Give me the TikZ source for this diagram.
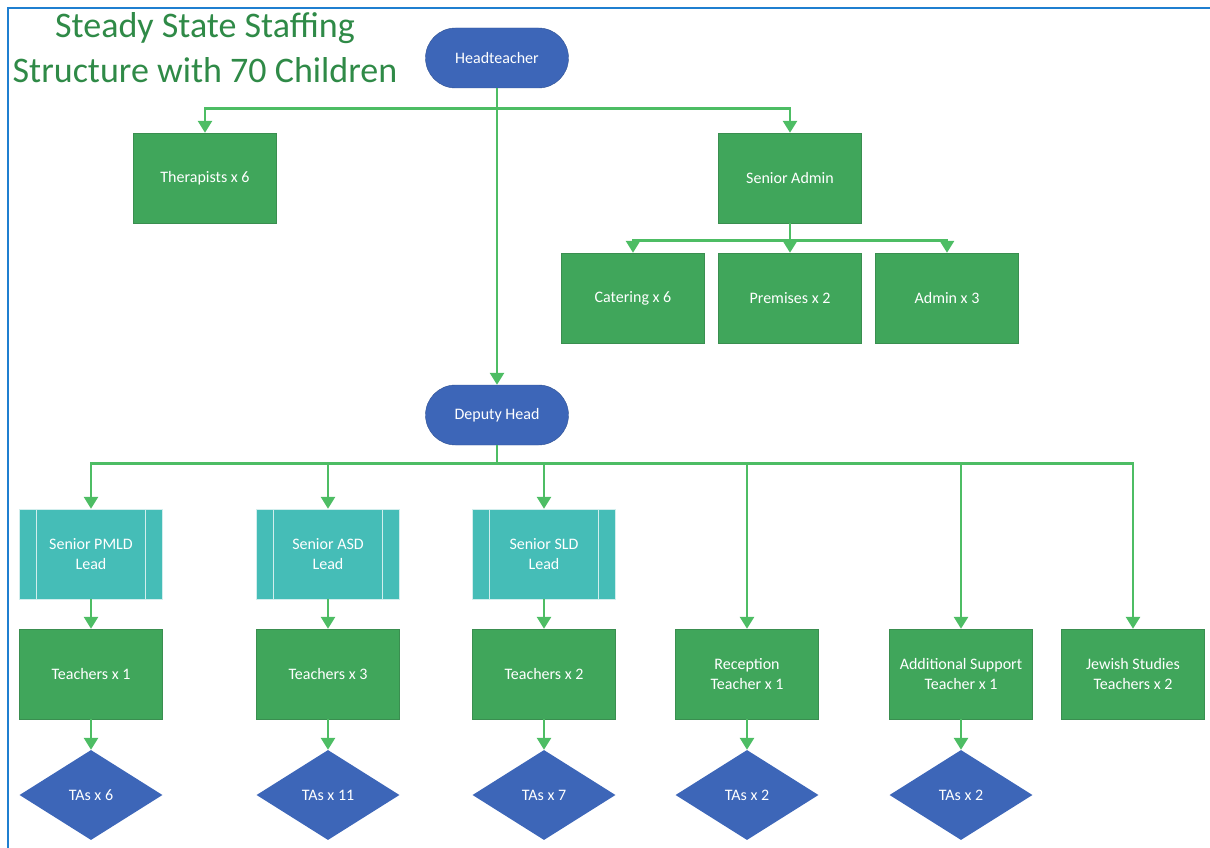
\documentclass[tikz,border=0pt]{standalone}
\usepackage{fontspec}
\setmainfont{Carlito}
\usetikzlibrary{arrows.meta,shapes.geometric}
\definecolor{boxgreen}{HTML}{40A65B}
\definecolor{boxedge}{HTML}{3A8E50}
\definecolor{linegreen}{HTML}{4DBD64}
\definecolor{headblue}{HTML}{3D66B8}
\definecolor{leadcyan}{HTML}{45BDB7}
\definecolor{titlegreen}{HTML}{2F8A47}
\definecolor{frameblue}{HTML}{1F7FD0}

\begin{document}
\begin{tikzpicture}[x=1pt,y=-1pt,
  every node/.style={font=\fontsize{16}{20}\selectfont, text=white, align=center},
  role/.style={draw=boxedge, fill=boxgreen, minimum width=143pt, minimum height=90pt, inner sep=0pt},
  lead/.style={draw=white!75!leadcyan, fill=leadcyan, minimum width=143pt, minimum height=90pt, inner sep=0pt,
    path picture={
      \draw[white!75!leadcyan] ([xshift=17pt]path picture bounding box.north west) -- ([xshift=17pt]path picture bounding box.south west);
      \draw[white!75!leadcyan] ([xshift=-17pt]path picture bounding box.north east) -- ([xshift=-17pt]path picture bounding box.south east);}},
  boss/.style={draw=headblue!80!black, fill=headblue, rounded corners=30pt, minimum width=143pt, minimum height=60pt, inner sep=0pt},
  tas/.style={diamond, fill=headblue, aspect=1.59, minimum width=143pt, minimum height=90pt, inner sep=0pt},
  link/.style={draw=linegreen, line width=2.7pt, -{Triangle[width=14pt,length=12pt]}}]
\useasboundingbox (0,0) rectangle (1210,848);
\draw[frameblue, line width=2.5pt] (8,848) -- (8,8) -- (1210,8);

% title
\node[text=titlegreen, font=\fontsize{36}{45}\selectfont] (title) at (205,48) {Steady State Staffing\\Structure with 70 Children};

% top of the tree
\node[boss] (head) at (497,58) {Headteacher};
\node[role] (therap) at (205,178) {Therapists x 6};
\node[role] (sadmin) at (790,178) {Senior Admin};
\node[role] (cater) at (633,298) {Catering x 6};
\node[role] (prem) at (790,298) {Premises x 2};
\node[role] (admin) at (947,298) {Admin x 3};
\node[boss] (deputy) at (497,415) {Deputy Head};

% teaching side
\node[lead] (pmld) at (91,554) {Senior PMLD\\Lead};
\node[lead] (asd) at (328,554) {Senior ASD\\Lead};
\node[lead] (sld) at (544,554) {Senior SLD\\Lead};
\node[role] (t1) at (91,674) {Teachers x 1};
\node[role] (t3) at (328,674) {Teachers x 3};
\node[role] (t2) at (544,674) {Teachers x 2};
\node[role] (recep) at (747,674) {Reception\\Teacher x 1};
\node[role] (addsup) at (961,674) {Additional Support\\Teacher x 1};
\node[role] (jewish) at (1133,674) {Jewish Studies\\Teachers x 2};
\node[tas] (ta6) at (91,795) {TAs x 6};
\node[tas] (ta11) at (328,795) {TAs x 11};
\node[tas] (ta7) at (544,795) {TAs x 7};
\node[tas] (tarec) at (747,795) {TAs x 2};
\node[tas] (taadd) at (961,795) {TAs x 2};

\draw[link] (head.south) -- (deputy.north);
\foreach \n in {therap,sadmin}{
\draw[link] (head.south) -- ++(0,20) -| (\n.north);};
\foreach \n in {cater,prem,admin}{
\draw[link] (sadmin.south) -- ++(0,17) -| (\n.north);};
\foreach \n in {pmld,asd,sld,recep,addsup,jewish}{
\draw[link] (deputy.south) -- ++(0,18) -| (\n.north);};
\foreach \x/\y in {pmld/t1,asd/t3,sld/t2,t1/ta6,t3/ta11,t2/ta7,recep/tarec,addsup/taadd}{
\draw[link] (\x.south) -- (\y.north);};
\end{tikzpicture}
\end{document}
